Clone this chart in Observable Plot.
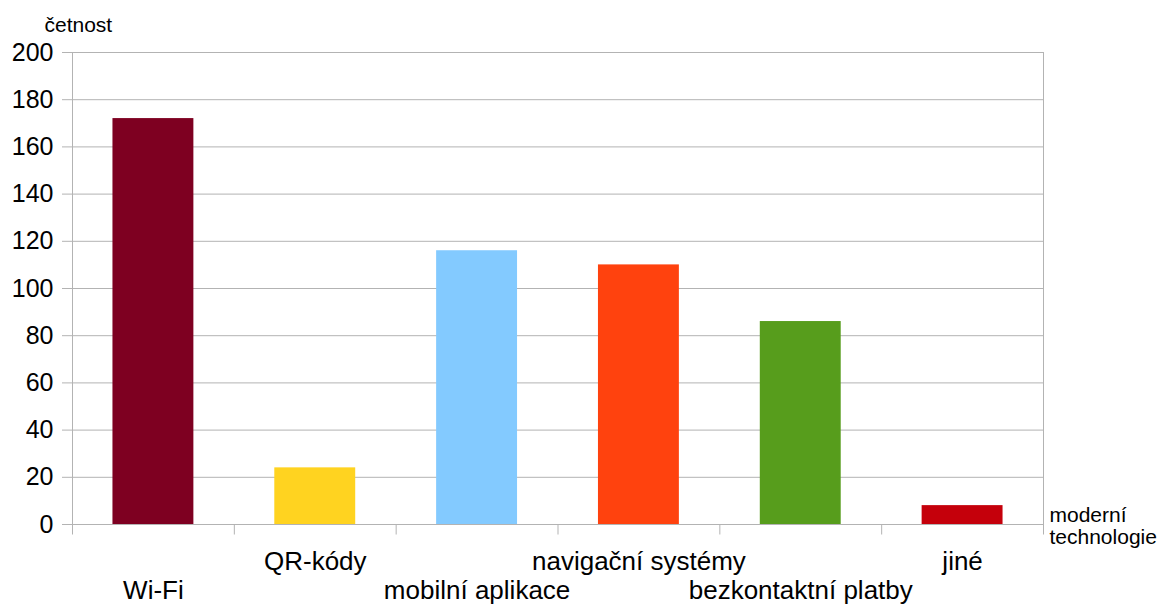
<!DOCTYPE html>
<html>
<head>
<meta charset="utf-8">
<script src="https://cdn.jsdelivr.net/npm/d3@7"></script>
<script src="https://cdn.jsdelivr.net/npm/@observablehq/plot@0.6"></script>
<style>
  html, body { margin: 0; padding: 0; background: #fff; }
  #chart svg { display: block; }
</style>
</head>
<body>
<div id="chart"></div>
<script>
// Četnost používání moderních technologií
const categories = ["Wi-Fi", "QR-kódy", "mobilní aplikace", "navigační systémy", "bezkontaktní platby", "jiné"];
const counts = [172, 24, 116, 110, 86, 8];
const yTicks = [0, 20, 40, 60, 80, 100, 120, 140, 160, 180, 200];
const yLabel = "četnost";
const xLabel = "moderní\ntechnologie";

const palette = ["#7e0021", "#ffd320", "#83caff", "#ff420e", "#579d1c", "#c5000b"];
const gridColor = "#b3b3b3";

const W = 1158, H = 605;
const margin = {top: 52, right: 115, bottom: 81, left: 72};
const step = (W - margin.left - margin.right) / categories.length;

const rows = categories.map((c, i) => ({category: c, count: counts[i], row: i % 2}));

const chart = Plot.plot({
  width: W,
  height: H,
  marginTop: margin.top,
  marginRight: margin.right,
  marginBottom: margin.bottom,
  marginLeft: margin.left,
  style: {fontFamily: "'Liberation Sans', Arial, sans-serif", color: "#000", background: "#fff"},
  x: {domain: categories, paddingInner: 0.5, paddingOuter: 0.25, round: false, axis: null},
  y: {domain: [0, 200], axis: null},
  color: {domain: categories, range: palette},
  marks: [
    // horizontal grid
    Plot.gridY(yTicks, {stroke: gridColor, strokeOpacity: 1, strokeWidth: 1}),
    // y axis ticks and labels
    Plot.axisY(yTicks, {
      tickSize: 10, tickPadding: 9, stroke: gridColor, strokeOpacity: 1,
      fontSize: 25, fill: "#000", label: null
    }),
    // left and right plot borders
    Plot.ruleX([categories[0]], {dx: -step / 2, stroke: gridColor, insetBottom: -10.5}),
    Plot.ruleX([categories[categories.length - 1]], {dx: step / 2, stroke: gridColor, insetBottom: -10.5}),
    // category separator ticks below the baseline
    Plot.ruleX(categories.slice(1), {dx: -step / 2, y1: 0, y2: 0, stroke: gridColor, insetBottom: -10.5}),
    // bars
    Plot.barY(rows, {x: "category", y: "count", fill: "category"}),
    // staggered category labels
    Plot.text(rows.filter((d) => d.row === 1), {x: "category", y: () => 0, text: "category", dy: 37, fontSize: 26, fill: "#000", lineAnchor: "middle"}),
    Plot.text(rows.filter((d) => d.row === 0), {x: "category", y: () => 0, text: "category", dy: 66.5, fontSize: 26, fill: "#000", lineAnchor: "middle"}),
    // axis titles
    Plot.text([yLabel], {frameAnchor: "top-left", dx: -28, dy: -27.4, textAnchor: "start", lineAnchor: "middle", fontSize: 21, fill: "#000"}),
    Plot.text([xLabel], {frameAnchor: "bottom-right", dx: 6, dy: -18, textAnchor: "start", lineAnchor: "top", lineHeight: 1.05, fontSize: 21, fill: "#000"})
  ]
});

document.getElementById("chart").appendChild(chart);
</script>
</body>
</html>
